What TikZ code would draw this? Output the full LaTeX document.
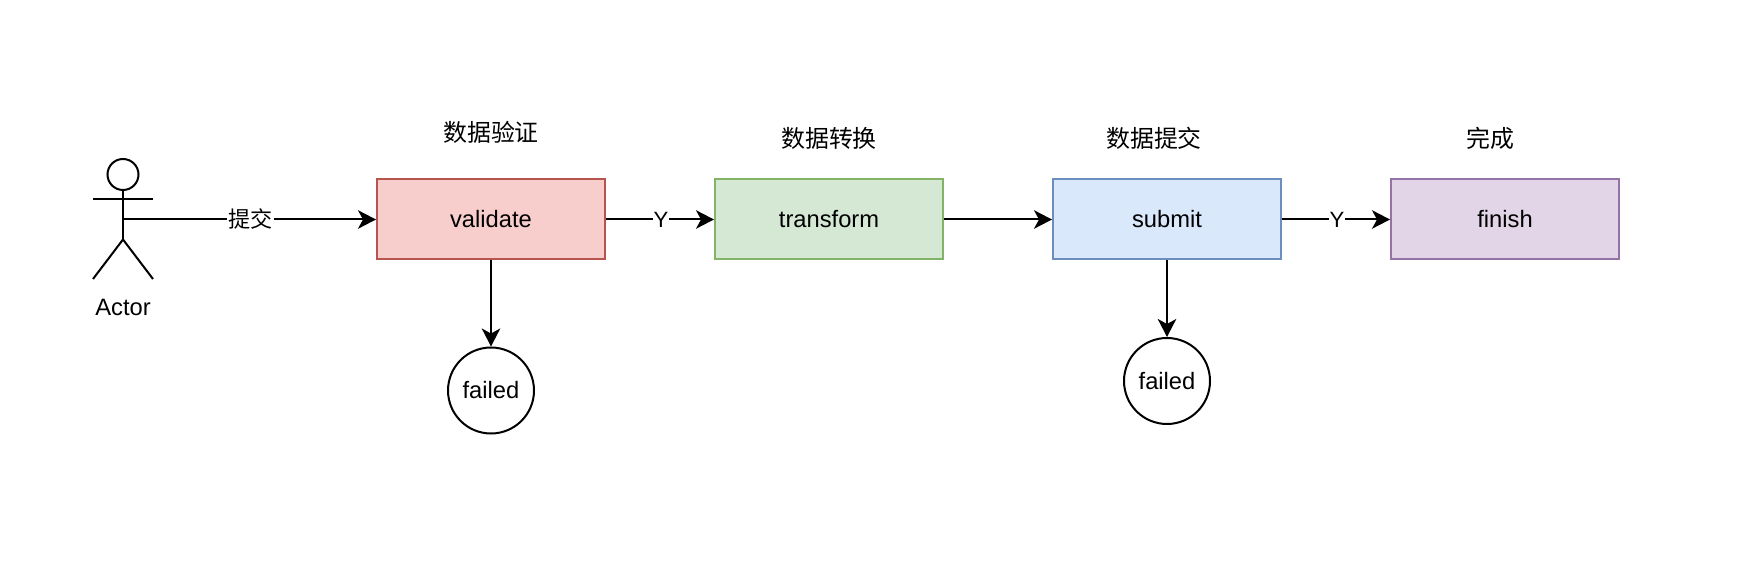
\documentclass[tikz,border=0pt]{standalone}
\usepackage{fontspec}
\setmainfont{Liberation Sans}
\newfontfamily\cjk{Noto Sans CJK SC}
\usetikzlibrary{arrows.meta, calc}
\definecolor{redfill}{HTML}{F8CECC}
\definecolor{reddraw}{HTML}{B85450}
\definecolor{greenfill}{HTML}{D5E8D4}
\definecolor{greendraw}{HTML}{82B366}
\definecolor{bluefill}{HTML}{DAE8FC}
\definecolor{bluedraw}{HTML}{6C8EBF}
\definecolor{purplefill}{HTML}{E1D5E7}
\definecolor{purpledraw}{HTML}{9673A6}
\begin{document}
\begin{tikzpicture}[line width=0.04cm, node distance=6.76cm, every node/.style={font=\fontsize{13.5}{16}\selectfont}]
% Define styles
\tikzstyle{process} = [rectangle, minimum width=4.56cm, minimum height=1.6cm, align=center, draw=black]
\tikzstyle{endstate} = [circle, minimum size=1.72cm, inner sep=0pt, align=center, draw=black]
\tikzstyle{title} = [align=center, font=\cjk\fontsize{13.6}{16}\selectfont]
\tikzstyle{edgelabel} = [fill=white, inner sep=0.6pt, xshift=0.02cm, font=\fontsize{12.6}{14}\selectfont]
\tikzstyle{arrow} = [-{Stealth[length=0.36cm, width=0.37cm, inset=0.1cm]}]
\useasboundingbox (0,0) rectangle (35.28,-11.76);
% Place nodes
\node (validate) [process, fill=redfill, draw=reddraw] at (9.82,-4.39) {validate};
\node (transform) [process, fill=greenfill, draw=greendraw, right of=validate] {transform};
\node (submit) [process, fill=bluefill, draw=bluedraw, right of=transform] {submit};
\node (finish) [process, fill=purplefill, draw=purpledraw, right of=submit] {finish};
\node (failed1) [endstate, below of=validate, node distance=3.42cm] {failed};
\node (failed2) [endstate, below of=submit, node distance=3.23cm] {failed};
\node (t1) [title, above of=validate, node distance=1.74cm] {数据验证};
\node (t2) [title, above of=transform, node distance=1.62cm] {数据转换};
\node (t3) [title, above of=submit, node distance=1.62cm, xshift=-0.26cm] {数据提交};
\node (t4) [title, above of=finish, node distance=1.62cm, xshift=-0.29cm] {完成};
% Actor
\coordinate (actor) at (2.46,-4.39);
\node (head) [circle, minimum size=0.62cm, inner sep=0pt, draw=black] at (2.46,-3.49) {};
\coordinate (armL) at (1.86,-3.98);
\coordinate (armR) at (3.06,-3.98);
\coordinate (hip) at (2.46,-4.79);
\coordinate (legL) at (1.86,-5.58);
\coordinate (legR) at (3.06,-5.58);
\node (actorlabel) at (2.46,-6.14) {Actor};
\draw (head) -- (hip);
\draw (armL) -- (armR);
\draw (legL) -- (hip) -- (legR);
% Draw arrows
\draw [arrow] (actor) -- node[edgelabel, font=\cjk\fontsize{12.6}{14}\selectfont] {提交} (validate);
\draw [arrow] (validate) -- node[edgelabel] {Y} (transform);
\draw [arrow] (transform) -- (submit);
\draw [arrow] (submit) -- node[edgelabel] {Y} (finish);
\draw [arrow] (validate) -- (failed1);
\draw [arrow] (submit) -- (failed2);
\end{tikzpicture}
\end{document}
